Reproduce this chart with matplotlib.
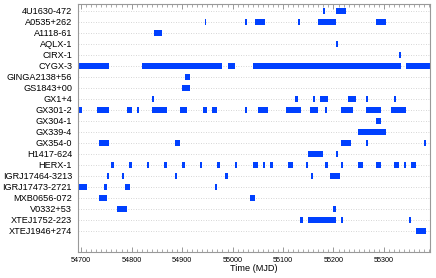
import numpy as np
import matplotlib
matplotlib.use("Agg")
import matplotlib.pyplot as plt
from matplotlib.ticker import MultipleLocator

plt.rcParams['font.family'] = ['Liberation Sans', 'DejaVu Sans']

sources = ["4U1630-472", "A0535+262", "A1118-61", "AQLX-1", "CIRX-1", "CYGX-3",
           "GINGA2138+56", "GS1843+00", "GX1+4", "GX301-2", "GX304-1", "GX339-4",
           "GX354-0", "H1417-624", "HERX-1", "IGRJ17464-3213", "IGRJ17473-2721",
           "MXB0656-072", "V0332+53", "XTEJ1752-223", "XTEJ1946+274"]

# observation windows (start MJD, end MJD)
w_4u1630 = [(55179, 55183), (55204, 55224)]
w_a0535 = [(54945, 54948), (55025, 55029), (55045, 55065), (55130, 55134),
           (55170, 55204), (55284, 55304)]
w_a1118 = [(54845, 54860)]
w_aqlx1 = [(55205, 55209)]
w_cirx1 = [(55329, 55334)]
w_cygx3 = [(54690, 54756), (54820, 54980), (54990, 55005), (55040, 55334),
           (55344, 55395)]
w_ginga = [(54905, 54916)]
w_gs1843 = [(54900, 54915)]
w_gx1 = [(54841, 54845), (55124, 55129), (55160, 55164), (55174, 55190),
         (55229, 55244), (55264, 55269), (55320, 55324)]
w_gx301 = [(54690, 54701), (54731, 54756), (54791, 54801), (54810, 54815),
           (54841, 54870), (54895, 54910), (54941, 54950), (54960, 54970),
           (55025, 55029), (55050, 55070), (55105, 55135), (55154, 55169),
           (55184, 55188), (55215, 55239), (55264, 55294), (55314, 55344)]
w_gx304 = [(55284, 55294)]
w_gx339 = [(55249, 55305)]
w_gx354 = [(54736, 54756), (54885, 54895), (55214, 55234), (55264, 55269),
           (55380, 55384)]
w_h1417 = [(55149, 55179), (55204, 55209)]
w_herx1 = [(54760, 54765), (54795, 54800), (54830, 54835), (54865, 54870),
           (54900, 54905), (54935, 54940), (54970, 54975), (55005, 55009),
           (55040, 55050), (55060, 55064), (55075, 55080), (55110, 55120),
           (55145, 55149), (55184, 55189), (55215, 55219), (55249, 55259),
           (55284, 55294), (55319, 55329), (55339, 55344), (55354, 55364)]
w_igr17464 = [(54751, 54755), (54781, 54785), (54885, 54890), (54986, 54990),
              (55155, 55159), (55194, 55213)]
w_igr17473 = [(54690, 54711), (54746, 54751), (54786, 54796), (54965, 54970)]
w_mxb0656 = [(54736, 54751), (55035, 55045)]
w_v0332 = [(54771, 54791), (55200, 55204)]
w_xte1752 = [(55134, 55140), (55149, 55204), (55214, 55219), (55349, 55354)]
w_xte1946 = [(55364, 55384)]

windows = [w_4u1630, w_a0535, w_a1118, w_aqlx1, w_cirx1, w_cygx3, w_ginga,
           w_gs1843, w_gx1, w_gx301, w_gx304, w_gx339, w_gx354, w_h1417,
           w_herx1, w_igr17464, w_igr17473, w_mxb0656, w_v0332, w_xte1752,
           w_xte1946]

fig = plt.figure(figsize=(4.36, 2.78), dpi=100)
ax = fig.add_axes([0.178, 0.092, 0.808, 0.894])

bar_h = 0.6
for i, win in enumerate(windows):
    ax.axhline(i, color='#c8c8c8', lw=0.6, ls=(0, (1, 2)), zorder=0)
    ax.broken_barh([(s, e - s) for s, e in win], (i - bar_h / 2, bar_h),
                   facecolors='#0040ff', edgecolor='none', zorder=2)

ax.set_xlim(54693, 55391)
ax.set_ylim(21.95, -0.64)
ax.set_yticks(range(len(sources)))
ax.set_yticklabels(sources, fontsize=6.6)
ax.tick_params(axis='y', length=0, pad=4)
ax.xaxis.set_major_locator(MultipleLocator(100))
ax.xaxis.set_minor_locator(MultipleLocator(10))
ax.tick_params(axis='x', which='major', direction='in', length=3.5,
               top=True, labelsize=5.2, color='#888888', width=0.6, pad=3)
ax.tick_params(axis='x', which='minor', direction='in', length=2,
               top=True, color='#888888', width=0.5)
ax.xaxis.get_major_formatter().set_useOffset(False)
ax.set_xlabel("Time (MJD)", fontsize=6.6, labelpad=0)
for sp in ax.spines.values():
    sp.set_color('#999999')
    sp.set_linewidth(0.8)

fig.savefig("out.png", dpi=100)
